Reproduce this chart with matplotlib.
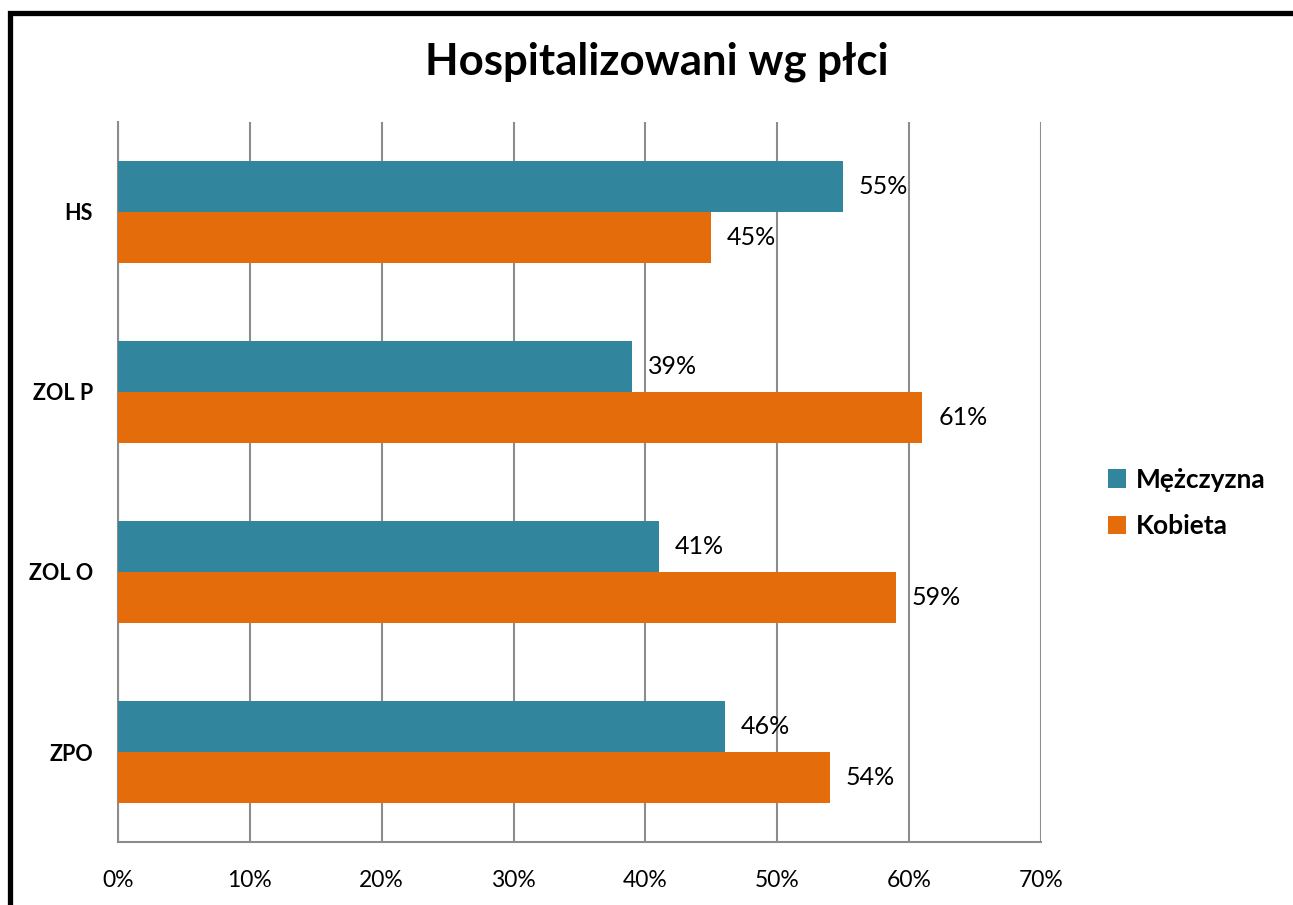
import matplotlib.pyplot as plt
from matplotlib.patches import Rectangle
import numpy as np

plt.rcParams['font.family'] = ['Lato', 'DejaVu Sans']

categories = ['HS', 'ZOL P', 'ZOL O', 'ZPO']
mezczyzna = [55, 39, 41, 46]
kobieta = [45, 61, 59, 54]
xticks = [0, 10, 20, 30, 40, 50, 60, 70]

teal = '#31859C'
orange = '#E46C0A'

fig = plt.figure(figsize=(12.93, 9.05), dpi=100)
ax = fig.add_axes([118/1293, 1-842/905, (1041-118)/1293, (842-122)/905])

y = np.arange(len(categories))
h = 0.283
ax.barh(y - h/2, mezczyzna, height=h, color=teal, label='Mężczyzna', zorder=3)
ax.barh(y + h/2, kobieta, height=h, color=orange, label='Kobieta', zorder=3)

for i in range(len(categories)):
    ax.text(mezczyzna[i] + 1.2, y[i] - h/2, f'{mezczyzna[i]}%', va='center', ha='left', fontsize=18, zorder=4)
    ax.text(kobieta[i] + 1.2, y[i] + h/2, f'{kobieta[i]}%', va='center', ha='left', fontsize=18, zorder=4)

ax.set_xlim(0, 70)
ax.set_ylim(3.5, -0.5)
ax.set_xticks(xticks)
ax.set_xticklabels([f'{t}%' for t in xticks], fontsize=16.5)
ax.set_yticks(y)
ax.set_yticklabels(categories, fontsize=15.5, fontweight='bold')
ax.tick_params(axis='both', length=0)
ax.tick_params(axis='x', pad=20)
ax.tick_params(axis='y', pad=18)
ax.grid(axis='x', color='#8c8c8c', linewidth=1.5, zorder=0)
for s in ['top', 'right']:
    ax.spines[s].set_visible(False)
for s in ['left', 'bottom']:
    ax.spines[s].set_color('#8c8c8c')
    ax.spines[s].set_linewidth(1.5)

fig.text(657/1293, 1-62/905, 'Hospitalizowani wg płci', ha='center', va='center', fontsize=31.5, fontweight='bold')

leg = fig.legend(loc='center left', bbox_to_anchor=(1084/1293, 1-503/905), frameon=False,
                 prop={'size': 19, 'weight': 'bold'}, handlelength=0.7, handleheight=0.7,
                 handletextpad=0.35, labelspacing=0.85)

fig.add_artist(Rectangle((9.5/1293, -0.1), 2, 1-13/905+0.1, fill=False, lw=3.8,
                         edgecolor='black', transform=fig.transFigure, clip_on=False))

fig.savefig('out.png', dpi=100)
